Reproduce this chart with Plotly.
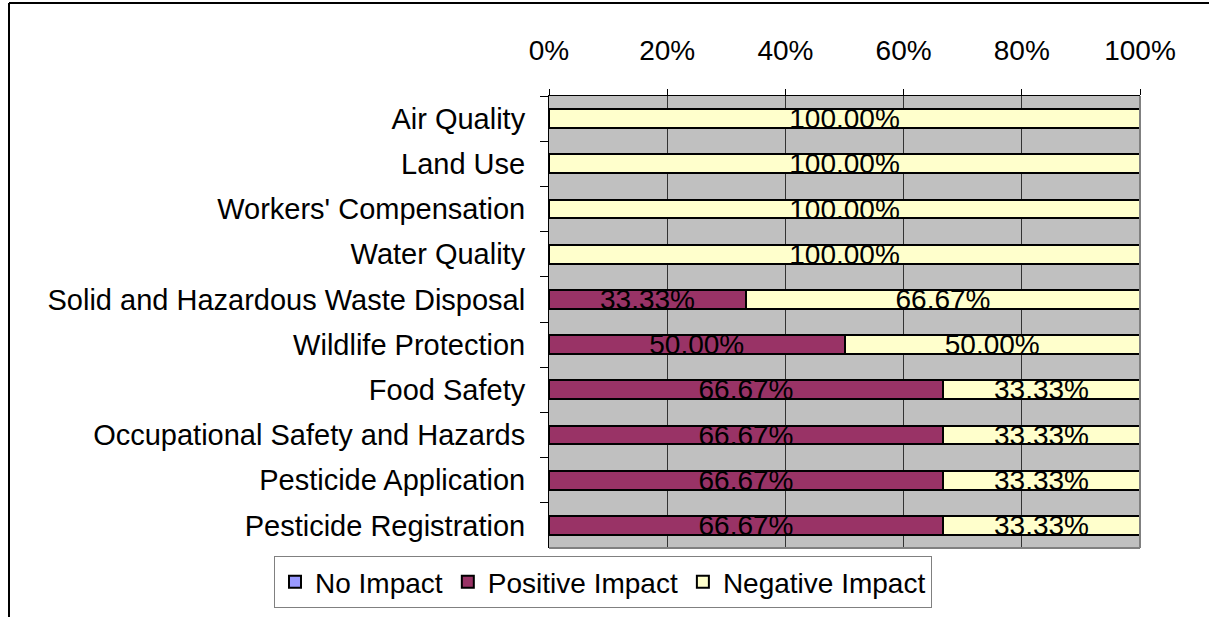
import plotly.graph_objects as go

categories = ["Air Quality", "Land Use", "Workers' Compensation", "Water Quality",
              "Solid and Hazardous Waste Disposal", "Wildlife Protection", "Food Safety",
              "Occupational Safety and Hazards", "Pesticide Application", "Pesticide Registration"]
no_impact = [0, 0, 0, 0, 0, 0, 0, 0, 0, 0]
positive_impact = [0, 0, 0, 0, 33.33, 50.00, 66.67, 66.67, 66.67, 66.67]
negative_impact = [100.00, 100.00, 100.00, 100.00, 66.67, 50.00, 33.33, 33.33, 33.33, 33.33]
x_ticks = [0, 20, 40, 60, 80, 100]
x_tick_labels = ["0%", "20%", "40%", "60%", "80%", "100%"]

W, H = 1209, 617
L, R, T, B = 549, 1140, 96, 548

def px_x(p):
    return (p - L) / (R - L)

def px_y(p):
    return (B - p) / (B - T)

FONT = "Liberation Sans, Arial, sans-serif"

series = [("No Impact", no_impact, "#9999FF"),
          ("Positive Impact", positive_impact, "#993366"),
          ("Negative Impact", negative_impact, "#FFFFCC")]

fig = go.Figure()
for name, vals, color in series:
    fig.add_trace(go.Bar(
        name=name, y=categories, x=vals, orientation="h",
        marker=dict(color=color, line=dict(color="black", width=2)),
        text=[f"{v:.2f}%" if v > 0 else "" for v in vals],
        textposition="inside", insidetextanchor="middle", textangle=0,
        constraintext="none",
        insidetextfont=dict(family=FONT, size=28, color="black"),
        hoverinfo="skip",
    ))

shapes = [
    dict(type="line", xref="paper", yref="paper", x0=px_x(9), x1=px_x(1209), y0=px_y(3), y1=px_y(3),
         line=dict(color="black", width=2)),
    dict(type="line", xref="paper", yref="paper", x0=px_x(9), x1=px_x(9), y0=px_y(3), y1=px_y(617),
         line=dict(color="black", width=2)),
    dict(type="line", xref="paper", yref="paper", x0=1, x1=1, y0=0, y1=1,
         line=dict(color="#808080", width=2)),
    dict(type="line", xref="paper", yref="paper", x0=0, x1=1, y0=0, y1=0,
         line=dict(color="#808080", width=2)),
]

fig.update_layout(
    width=W, height=H,
    margin=dict(l=L, r=W - R, t=T, b=H - B, pad=0, autoexpand=False),
    barmode="stack", bargap=0.58,
    plot_bgcolor="#C0C0C0", paper_bgcolor="white",
    font=dict(family=FONT, size=28, color="black"),
    xaxis=dict(side="top", range=[0, 100], tickmode="array", tickvals=x_ticks, ticktext=x_tick_labels,
               showgrid=True, gridcolor="#333333", gridwidth=1,
               ticks="outside", ticklen=6, tickcolor="black",
               showline=True, linecolor="black", linewidth=1,
               ticklabelstandoff=18, tickfont=dict(size=28), zeroline=False,
               fixedrange=True),
    yaxis=dict(categoryorder="array", categoryarray=categories, autorange="reversed",
               ticks="outside", ticklen=8, tickcolor="black", tickson="boundaries",
               showline=True, linecolor="black", linewidth=1, showgrid=False,
               ticklabelstandoff=17, tickfont=dict(size=29), fixedrange=True),
    legend=dict(orientation="h", xref="paper", x=px_x(274), xanchor="left",
                yref="paper", y=px_y(556), yanchor="top",
                bordercolor="#808080", borderwidth=1, bgcolor="white",
                font=dict(family=FONT, size=28), traceorder="normal",
                itemwidth=30),
    shapes=shapes,
    showlegend=True,
)

fig.write_html("out.html", config={"displayModeBar": False},
               post_script="document.body.style.margin='0';")
